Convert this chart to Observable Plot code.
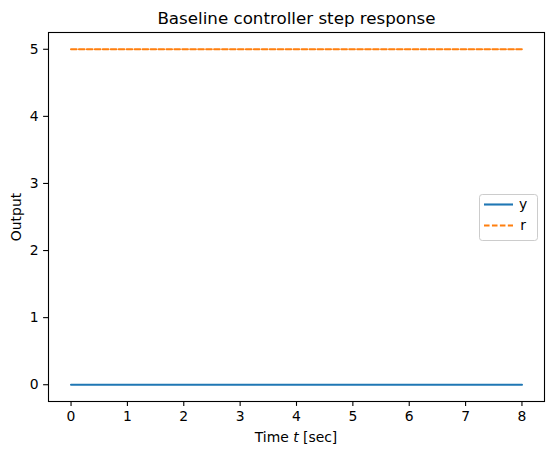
<!DOCTYPE html>
<html>
<head>
<meta charset="utf-8">
<script src="https://cdn.jsdelivr.net/npm/d3@7"></script>
<script src="https://cdn.jsdelivr.net/npm/@observablehq/plot@0.6"></script>
<style>
  body { margin: 0; background: white; }
</style>
</head>
<body>
<div id="chart"></div>
<script>
// datos de la respuesta al escalón
const time = [0, 8]
const yOut = [0, 0]
const rRef = [5, 5]
const xTicks = [0, 1, 2, 3, 4, 5, 6, 7, 8]
const yTicks = [0, 1, 2, 3, 4, 5]
const series = ["y", "r"]
const colors = ["#1f77b4", "#ff7f0e"]

const dataY = time.map((t, i) => ({ t: t, v: yOut[i] }))
const dataR = time.map((t, i) => ({ t: t, v: rRef[i] }))

const font = "DejaVu Sans, sans-serif"

let chart = Plot.plot({
  width: 554,
  height: 457,
  marginLeft: 48,
  marginRight: 10,
  marginTop: 32,
  marginBottom: 56,
  style: { fontFamily: font, fontSize: "13.9px", background: "white", color: "black" },
  x: { domain: [-0.4, 8.4] },
  y: { domain: [-0.25, 5.25] },
  marks: [
    Plot.axisX({ ticks: xTicks, tickFormat: d => d, tickSize: 4.9, tickPadding: 4.9, label: null, strokeWidth: 1.1 }),
    Plot.axisY({ ticks: yTicks, tickFormat: d => d, tickSize: 4.9, tickPadding: 4.9, label: null, strokeWidth: 1.1 }),
    Plot.line(dataY, { x: "t", y: "v", stroke: colors[0], strokeWidth: 2.1 }),
    Plot.line(dataR, { x: "t", y: "v", stroke: colors[1], strokeWidth: 2.1, strokeDasharray: "5.55,2.4" }),
    Plot.frame({ stroke: "black", strokeWidth: 1.1 }),
    Plot.text(["Baseline controller step response"], {
      frameAnchor: "top", dy: -14, lineAnchor: "middle", fontSize: 16.7, fill: "black"
    })
  ]
})

const svg = d3.select(chart)

// etiqueta del eje x con t en cursiva
const xl = svg.append("text")
  .attr("x", 296).attr("y", 438)
  .attr("text-anchor", "middle").attr("dominant-baseline", "middle")
  .style("font-family", font).style("font-size", "13.9px").attr("fill", "black")
xl.append("tspan").text("Time ")
xl.append("tspan").attr("font-style", "italic").text("t")
xl.append("tspan").text(" [sec]")

svg.append("text")
  .attr("transform", "translate(17,217) rotate(-90)")
  .attr("text-anchor", "middle").attr("dominant-baseline", "middle")
  .style("font-family", font).style("font-size", "13.9px").attr("fill", "black")
  .text("Output")

// leyenda
const lg = svg.append("g")
lg.append("rect")
  .attr("x", 479.5).attr("y", 194.5).attr("width", 58).attr("height", 46).attr("rx", 2.8)
  .attr("fill", "white").attr("fill-opacity", 0.8).attr("stroke", "#cccccc")
series.forEach((s, i) => {
  const yy = 204.5 + i * 21
  lg.append("line")
    .attr("x1", 484).attr("x2", 513).attr("y1", yy).attr("y2", yy)
    .attr("stroke", colors[i]).attr("stroke-width", 2.1)
    .attr("stroke-dasharray", i == 1 ? "5.55,2.4" : null)
  lg.append("text")
    .attr("x", 523).attr("y", yy).attr("dominant-baseline", "middle")
    .style("font-family", font).style("font-size", "13.9px").attr("fill", "black")
    .text(s)
})

d3.select("#chart").append(() => chart)
</script>
</body>
</html>
